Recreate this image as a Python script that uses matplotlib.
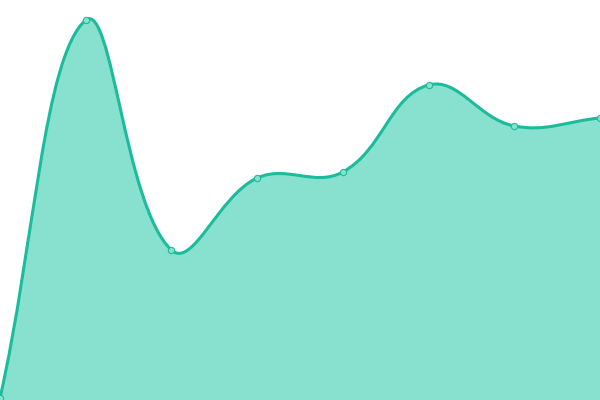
import matplotlib
matplotlib.use("Agg")
import matplotlib.pyplot as plt
from matplotlib.path import Path
from matplotlib.patches import PathPatch
import numpy as np

# values (y axis 0..400)
labels = ["A", "B", "C", "D", "E", "F", "G", "H"]
values = [2, 380, 150, 222, 228, 315, 274, 282]

line_color = "#1abc9c"
fill_color = "#88e0cf"
tension = 0.4


def bezier_controls(pts, t, ymin, ymax):
    # Chart.js style spline control points, done in pixel space
    n = len(pts)
    cps = []
    for i in range(n):
        prev = pts[i - 1] if i > 0 else pts[i]
        cur = pts[i]
        nxt = pts[i + 1] if i < n - 1 else pts[i]
        d01 = np.hypot(*(cur - prev))
        d12 = np.hypot(*(nxt - cur))
        tot = d01 + d12
        s01 = d01 / tot if tot else 0
        s12 = d12 / tot if tot else 0
        fa = t * s01
        fb = t * s12
        c1 = cur - fa * (nxt - prev)
        c2 = cur + fb * (nxt - prev)
        c1[1] = np.clip(c1[1], ymin, ymax)
        c2[1] = np.clip(c2[1], ymin, ymax)
        cps.append((c1, c2))
    return cps


fig = plt.figure(figsize=(6, 4), dpi=100)
ax = fig.add_axes([0, 0, 1, 1])
x = np.arange(len(values))
ax.set_xlim(0, len(values) - 1)
ax.set_ylim(0, 400)
ax.axis("off")

data = np.column_stack([x, values]).astype(float)
pix = ax.transData.transform(data)
y0, y1 = ax.transData.transform([[0, 0], [0, 400]])[:, 1]
cps = bezier_controls(pix, tension, y0, y1)

verts = [pix[0]]
codes = [Path.MOVETO]
for i in range(1, len(pix)):
    verts += [cps[i - 1][1], cps[i][0], pix[i]]
    codes += [Path.CURVE4] * 3
inv = ax.transData.inverted()
verts_data = inv.transform(np.array(verts))

line_path = Path(verts_data, codes)
fill_verts = list(verts_data) + [[x[-1], 0], [x[0], 0], verts_data[0]]
fill_codes = codes + [Path.LINETO, Path.LINETO, Path.CLOSEPOLY]
fill_path = Path(fill_verts, fill_codes)

ax.add_patch(PathPatch(fill_path, facecolor=fill_color, edgecolor="none"))
ax.add_patch(PathPatch(line_path, facecolor="none", edgecolor=line_color,
                       lw=2.2, capstyle="round", joinstyle="round"))
ax.plot(x, values, "o", ms=4.5, mfc=fill_color, mec=line_color, mew=0.8,
        clip_on=False, zorder=5)

fig.savefig("out.png", dpi=100)
